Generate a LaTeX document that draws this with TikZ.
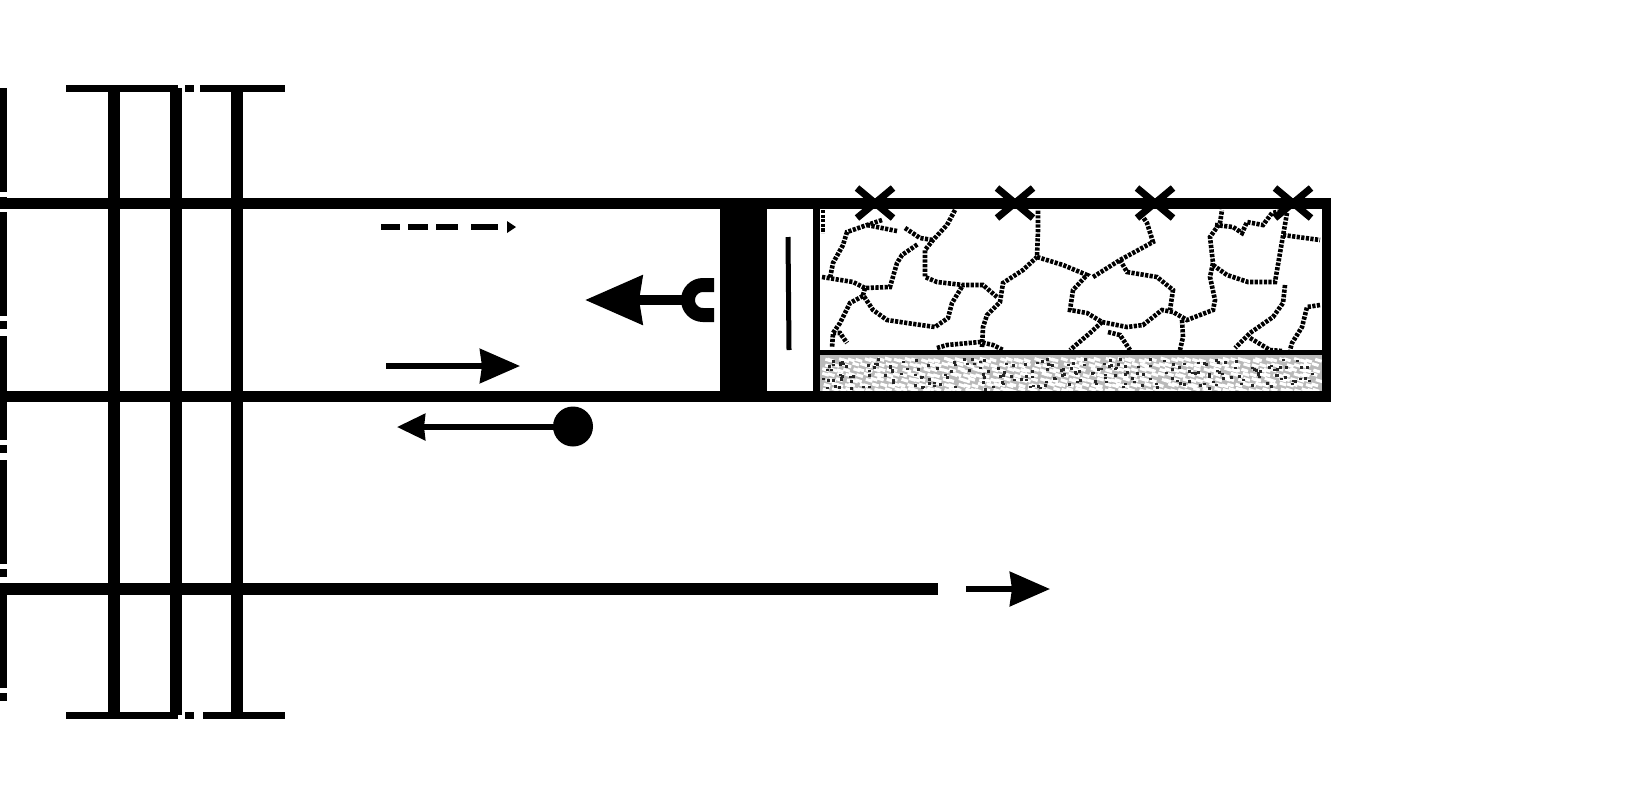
\documentclass[tikz,border=0pt]{standalone}
\usetikzlibrary{arrows.meta}

\tikzset{
	mur/.style={line width=11pt},
	axe/.style={line width=6.5pt,dash pattern=on 104pt off 5pt on 8pt off 7pt},
	fissure/.style={line width=4.6pt,dash pattern=on 3.2pt off 1.4pt},
	croix/.style={line width=7pt},
	fleche/.style={line width=5.5pt}
}
\newcommand{\fendre}[1]{\draw [fissure] plot coordinates {#1};}

\begin{document}
\begin{tikzpicture}[x=1pt,y=-1pt]
	\useasboundingbox (0,0) rectangle (1648,796);

	%axes mixtes
	\draw [axe] (3.5,88) -- (3.5,705);
	\draw [line width=7pt] (66,88) -- (178,88);
	\draw [line width=7pt] (185,88) -- (194,88);
	\draw [line width=7pt] (200,88) -- (285,88);
	\draw [line width=7pt] (66,715) -- (178,715);
	\draw [line width=7pt] (185,715) -- (194,715);
	\draw [line width=7pt] (203,715) -- (285,715);

	%traits verticaux
	\foreach \xtrait in {114,175.5,237}
		\draw [line width=12pt] (\xtrait,88) -- (\xtrait,715);

	%garnissage
	\fill [gray!55] (820,355) rectangle (1322,391);
	\pgfmathsetseed{4217}
	\foreach \i in {0,...,70}
		\foreach \j in {0,...,6} {
			\pgfmathsetmacro{\xtache}{820+7*\i+6*rnd}
			\pgfmathsetmacro{\ytache}{358+5*\j+2*rnd}
			\draw [white,line width=3pt] (\xtache,\ytache) --++ (6.5,2);
		}
	\foreach \i in {1,...,230} {
		\pgfmathsetmacro{\xtache}{822+494*rnd}
		\pgfmathsetmacro{\ytache}{358+30*rnd}
		\fill [black!85] (\xtache,\ytache) rectangle ++(3,2.6);
	}

	%fissures
	\fendre{(823,210) (823,233)}
	\fendre{(882,220) (867,225) (847,232) (843,245) (833,263) (830,278)}
	\fendre{(867,225) (897,231)}
	\fendre{(822,277) (853,282) (865,288) (890,287) (897,263) (902,255) (918,244)}
	\fendre{(955,210) (947,225) (933,240) (925,250) (925,277) (937,282) (963,285) (983,285) (997,297)}
	\fendre{(905,228) (920,238) (933,240)}
	\fendre{(865,288) (863,295) (873,310) (887,320) (907,323) (935,327) (948,318) (952,303) (963,285)}
	\fendre{(863,296) (850,303) (840,323) (833,333) (832,348)}
	\fendre{(833,333) (840,333) (847,343)}
	\fendre{(937,348) (947,345) (980,342) (993,345) (1003,350)}
	\fendre{(982,347) (983,327) (987,315) (1000,302) (1003,283) (1023,270) (1037,257) (1038,230) (1038,210)}
	\fendre{(1037,257) (1063,265) (1087,275) (1073,290) (1070,310) (1087,313) (1102,322) (1127,327) (1143,325) (1162,310) (1173,312) (1187,320) (1213,310) (1215,300) (1210,277) (1213,263) (1210,237) (1220,223) (1222,210)}
	\fendre{(1102,322) (1090,333) (1070,350)}
	\fendre{(1108,332) (1120,335) (1130,350)}
	\fendre{(1093,277) (1120,260) (1153,242) (1147,223) (1143,217)}
	\fendre{(1120,260) (1127,272) (1157,277) (1173,290) (1170,310)}
	\fendre{(1182,320) (1183,337) (1180,350)}
	\fendre{(1215,225) (1233,227) (1242,233) (1247,222) (1263,225) (1272,213) (1287,210)}
	\fendre{(1213,265) (1227,275) (1248,282) (1275,282) (1280,253) (1287,213)}
	\fendre{(1283,235) (1320,240)}
	\fendre{(1285,285) (1283,303) (1273,317) (1250,333) (1235,348)}
	\fendre{(1250,338) (1270,350) (1282,351)}
	\fendre{(1320,305) (1307,307) (1302,327) (1292,343) (1290,350)}

	%parois
	\draw [mur] (0,203) -- (1331,203);
	\draw [mur] (0,396.5) -- (1331,396.5);
	\draw [line width=12.5pt] (0,589) -- (938,589);
	\fill (720,203) rectangle (767,396);
	\fill (813,203) rectangle (820,396);
	\fill (1322,203) rectangle (1331,396);
	\draw [line width=5pt] (820,352.5) -- (1322,352.5);
	\draw [line width=5pt] (788,237) -- (789,350);

	%croix
	\foreach \xcroix in {875,1015,1155,1293} {
		\draw [croix] (\xcroix-18,188) -- (\xcroix+18,218);
		\draw [croix] (\xcroix+18,188) -- (\xcroix-18,218);
	}

	%fleches
	\draw [line width=6pt,dash pattern=on 19pt off 8pt on 20pt off 8pt on 22pt off 13pt on 27pt off 10pt] (381,227) -- (507,227);
	\fill (507,221) -- (516,227) -- (507,233) -- cycle;
	\draw [-{Stealth[length=57pt,width=48pt,inset=3pt]},line width=10pt] (690,300) -- (585,300);
	\draw [line width=14pt] (714,285) -- (703,285) arc (-90:-270:15) -- (714,315);
	\draw [-{Stealth[length=40pt,width=34pt,inset=2pt]},fleche] (386,366) -- (520,366);
	\draw [-{Stealth[length=28pt,width=26pt,inset=1pt]},fleche] (573,427) -- (397,427);
	\fill (573,426.5) circle (20);
	\draw [-{Stealth[length=40pt,width=34pt,inset=2pt]},line width=6pt] (966,589) -- (1050,589);
\end{tikzpicture}
\end{document}
